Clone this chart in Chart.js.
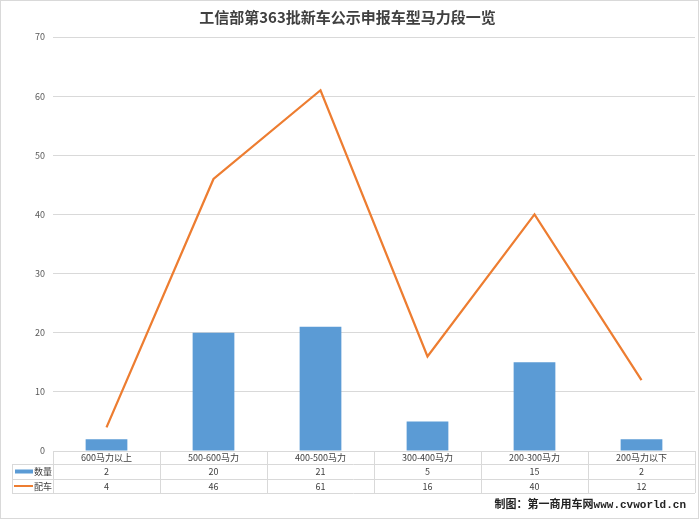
<!DOCTYPE html>
<html>
<head>
<meta charset="utf-8">
<script src="https://cdn.jsdelivr.net/npm/chart.js@4"></script>
<style>
  html, body { margin: 0; padding: 0; background: #fff; }
  #wrap { width: 700px; height: 520px; position: relative; }
</style>
</head>
<body>
<div id="wrap"><canvas id="c" width="700" height="520"></canvas></div>
<script>
const titleText = '工信部第363批新车公示申报车型马力段一览';
const categories = ['600马力以上', '500-600马力', '400-500马力', '300-400马力', '200-300马力', '200马力以下'];
const countValues = [2, 20, 21, 5, 15, 2];
const vehicleValues = [4, 46, 61, 16, 40, 12];
const seriesNames = ['数量', '配车'];
const yMin = 0, yMax = 70, yStep = 10;
const creditText = '制图：第一商用车网www.cvworld.cn';

const BLUE = '#5B9BD5';
const ORANGE = '#ED7D31';
const GRID = '#D9D9D9';
const TXT = '#595959';

const tablePlugin = {
  id: 'dataTable',
  afterDraw(chart) {
    const ctx = chart.ctx;
    const area = chart.chartArea;
    const xs = chart.scales.x;
    const n = categories.length;
    const colW = (area.right - area.left) / n;
    const top = area.bottom;
    const rowY = [top, top + 13, top + 28, top + 42];
    const legendLeft = 12;
    ctx.save();
    // outer border
    ctx.strokeStyle = GRID;
    ctx.lineWidth = 1;
    ctx.strokeRect(0.5, 0.5, chart.width - 2, chart.height - 2);
    // table lines
    ctx.beginPath();
    ctx.moveTo(area.left, rowY[0] + 0.5); ctx.lineTo(area.right, rowY[0] + 0.5);
    for (let r = 1; r < 4; r++) {
      ctx.moveTo(legendLeft, rowY[r] + 0.5); ctx.lineTo(area.right, rowY[r] + 0.5);
    }
    ctx.moveTo(legendLeft + 0.5, rowY[1]); ctx.lineTo(legendLeft + 0.5, rowY[3]);
    for (let i = 0; i <= n; i++) {
      const x = Math.round(area.left + i * colW) + 0.5;
      ctx.moveTo(x, rowY[0]); ctx.lineTo(x, rowY[3]);
    }
    ctx.stroke();
    // texts
    ctx.fillStyle = '#404040';
    ctx.font = '9px "Noto Sans CJK SC", sans-serif';
    ctx.textAlign = 'center';
    ctx.textBaseline = 'middle';
    for (let i = 0; i < n; i++) {
      const cx = xs.getPixelForValue(i);
      ctx.fillText(categories[i], cx, (rowY[0] + rowY[1]) / 2 + 0.5);
      ctx.fillText(String(countValues[i]), cx, (rowY[1] + rowY[2]) / 2 + 0.5);
      ctx.fillText(String(vehicleValues[i]), cx, (rowY[2] + rowY[3]) / 2 + 0.5);
    }
    // legend keys
    const y1 = (rowY[1] + rowY[2]) / 2, y2 = (rowY[2] + rowY[3]) / 2;
    ctx.fillStyle = BLUE;
    ctx.fillRect(legendLeft + 3, y1 - 2, 18, 4);
    ctx.strokeStyle = ORANGE;
    ctx.lineWidth = 2;
    ctx.beginPath(); ctx.moveTo(legendLeft + 2, y2); ctx.lineTo(legendLeft + 21, y2); ctx.stroke();
    ctx.fillStyle = '#404040';
    ctx.textAlign = 'left';
    ctx.fillText(seriesNames[0], legendLeft + 22, y1 + 0.5);
    ctx.fillText(seriesNames[1], legendLeft + 22, y2 + 0.5);
    // credit
    ctx.fillStyle = '#222';
    ctx.font = 'bold 11px "Liberation Mono", "Noto Sans CJK SC", monospace';
    ctx.textAlign = 'right';
    ctx.fillText(creditText, 686, 505);
    ctx.restore();
  }
};

new Chart(document.getElementById('c'), {
  data: {
    labels: categories,
    datasets: [
      {
        type: 'line',
        label: seriesNames[1],
        data: vehicleValues,
        borderColor: ORANGE,
        backgroundColor: ORANGE,
        borderWidth: 2.25,
        pointRadius: 0,
        tension: 0,
        order: 0
      },
      {
        type: 'bar',
        label: seriesNames[0],
        data: countValues,
        backgroundColor: BLUE,
        borderWidth: 0,
        barPercentage: 0.39,
        categoryPercentage: 1,
        order: 1
      }
    ]
  },
  options: {
    responsive: false,
    animation: false,
    layout: { padding: { left: 0, right: 5, top: 0, bottom: 69 } },
    plugins: {
      legend: { display: false },
      tooltip: { enabled: false },
      title: {
        display: true,
        text: titleText,
        color: '#404040',
        font: { family: '"Noto Sans CJK SC", sans-serif', size: 15, weight: 'bold' },
        padding: { top: 8, bottom: 11 }
      }
    },
    scales: {
      x: {
        display: false,
        offset: true
      },
      y: {
        min: yMin,
        max: yMax,
        ticks: {
          stepSize: yStep,
          color: TXT,
          padding: 8,
          font: { family: '"Noto Sans CJK SC", sans-serif', size: 9 }
        },
        grid: { color: GRID, drawTicks: false },
        border: { display: false },
        afterFit(scale) { scale.width = 53; }
      }
    }
  },
  plugins: [tablePlugin]
});
</script>
</body>
</html>
